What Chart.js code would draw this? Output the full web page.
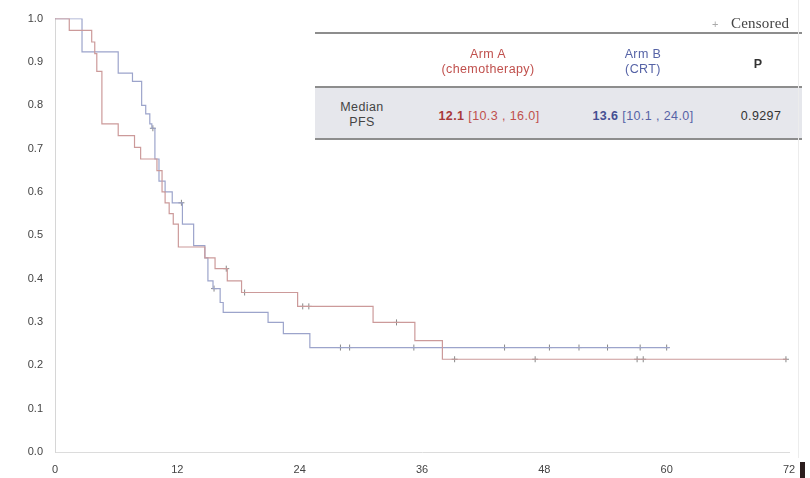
<!DOCTYPE html>
<html>
<head>
<meta charset="utf-8">
<script src="https://cdn.jsdelivr.net/npm/chart.js@4.4.1/dist/chart.umd.min.js"></script>
<style>
  body { margin: 0; background: #fff; }
  #wrap { position: relative; width: 810px; height: 478px; overflow: hidden; }
  #chart { position: absolute; left: 0; top: 0; }
  .t { position: absolute; font-family: "Liberation Sans", Arial, sans-serif; font-size: 12.5px; line-height: 15px; letter-spacing: 0.4px; text-align: center; white-space: nowrap; }
  .rule { position: absolute; left: 315px; width: 487px; height: 2px; background: #8d8d8d; }
  .red { color: #c0504d; }
  .blue { color: #5663a6; }
</style>
</head>
<body>
<div id="wrap">
  <canvas id="chart" width="810" height="478"></canvas>

  <div class="t" style="left:712px;top:17px;color:#aaa;font-size:11px;">+</div>
  <div class="t" style="left:731px;top:16px;font-family:'Liberation Serif','DejaVu Serif',serif;font-size:15px;letter-spacing:0.2px;color:#444;">Censored</div>

  <div class="rule" style="top:32px;"></div>
  <div style="position:absolute;left:315px;top:87px;width:487px;height:52px;background:#e6e7ec;"></div>
  <div class="rule" style="top:86px;"></div>
  <div class="rule" style="top:138px;"></div>

  <div class="t red" style="left:408px;width:160px;top:47px;">Arm A</div>
  <div class="t red" style="left:408px;width:160px;top:62px;">(chemotherapy)</div>
  <div class="t blue" style="left:563px;width:160px;top:47px;">Arm B</div>
  <div class="t blue" style="left:563px;width:160px;top:62px;">(CRT)</div>
  <div class="t" style="left:728px;width:60px;top:57px;font-weight:bold;color:#333;">P</div>

  <div class="t" style="left:322px;width:80px;top:100px;color:#444;">Median</div>
  <div class="t" style="left:322px;width:80px;top:115px;color:#444;">PFS</div>
  <div class="t red" style="left:409px;width:160px;top:109px;"><b style="color:#a83a3a;">12.1</b> [10.3 , 16.0]</div>
  <div class="t blue" style="left:563px;width:160px;top:109px;"><b style="color:#454f92;">13.6</b> [10.1 , 24.0]</div>
  <div class="t" style="left:731px;width:60px;top:109px;color:#333;">0.9297</div>

  <div style="position:absolute;left:798px;top:0;width:1px;height:458px;background:#ececec;"></div>
  <div style="position:absolute;left:800px;top:462px;width:5px;height:16px;background:#2b1d1d;"></div>
</div>

<script>
// Kaplan-Meier PFS, months vs probability
const armATimes = [0, 1.4, 3.6, 3.9, 4.1, 4.6, 6.2, 7.8, 8.4, 10.0, 10.5, 10.8, 11.2, 11.6, 12.1, 14.7, 15.7, 16.9, 18.3, 23.8, 31.2, 35.3, 38.0, 71.8];
const armASurv = [1.0, 0.973, 0.946, 0.919, 0.878, 0.757, 0.730, 0.703, 0.676, 0.649, 0.600, 0.575, 0.550, 0.526, 0.473, 0.448, 0.423, 0.395, 0.368, 0.336, 0.299, 0.257, 0.214, 0.214];
const armACensored = [16.8, 18.6, 24.3, 24.9, 33.5, 39.2, 47.1, 57.1, 57.7, 71.7];

const armBTimes = [0, 2.65, 6.2, 7.6, 8.5, 8.9, 9.3, 9.5, 9.8, 10.2, 10.8, 11.5, 12.5, 13.6, 14.7, 15.0, 15.5, 16.2, 16.5, 20.9, 22.4, 25.0, 60.3];
const armBSurv = [1.0, 0.923, 0.874, 0.855, 0.800, 0.780, 0.757, 0.747, 0.676, 0.625, 0.600, 0.575, 0.526, 0.476, 0.448, 0.395, 0.377, 0.345, 0.322, 0.299, 0.273, 0.241, 0.241];
const armBCensored = [9.6, 12.4, 15.6, 28.0, 28.9, 35.2, 44.1, 48.5, 51.4, 54.2, 57.4, 60.0];

const xTicks = [0, 12, 24, 36, 48, 60, 72];
const yTicks = [0, 0.1, 0.2, 0.3, 0.4, 0.5, 0.6, 0.7, 0.8, 0.9, 1.0];

function toPoints(times, surv) {
  return times.map((t, i) => ({ x: t, y: surv[i] }));
}

// value of the step curve at time t
function survAt(times, surv, t) {
  let v = surv[0];
  for (let i = 0; i < times.length; i++) {
    if (times[i] <= t) v = surv[i];
  }
  return v;
}

function censorPoints(list, times, surv) {
  return list.map(t => ({ x: t, y: survAt(times, surv, t) }));
}

const redLine = "#cc9a9a";
const blueLine = "#9ca4cb";

const config = {
  type: "scatter",
  data: {
    datasets: [
      {
        label: "Arm A",
        data: toPoints(armATimes, armASurv),
        showLine: true,
        stepped: "before",
        borderColor: redLine,
        borderWidth: 1.2,
        pointRadius: 0,
        fill: false
      },
      {
        label: "Arm B",
        data: toPoints(armBTimes, armBSurv),
        showLine: true,
        stepped: "before",
        borderColor: blueLine,
        borderWidth: 1.2,
        pointRadius: 0,
        fill: false
      },
      {
        label: "Censored A",
        data: censorPoints(armACensored, armATimes, armASurv),
        pointStyle: "cross",
        pointRadius: 3,
        borderColor: "#888",
        borderWidth: 1
      },
      {
        label: "Censored B",
        data: censorPoints(armBCensored, armBTimes, armBSurv),
        pointStyle: "cross",
        pointRadius: 3,
        borderColor: "#888",
        borderWidth: 1
      }
    ]
  },
  options: {
    responsive: false,
    animation: false,
    layout: { padding: { top: 17, right: 21, left: 0, bottom: 0 } },
    plugins: { legend: { display: false }, tooltip: { enabled: false } },
    scales: {
      x: {
        type: "linear",
        min: 0,
        max: 72,
        afterBuildTicks: (scale) => { scale.ticks = xTicks.map(v => ({ value: v })); },
        afterFit: (scale) => { scale.height = 26; },
        grid: { display: false, drawTicks: false },
        border: { display: true, color: "#dcdcdc", width: 1 },
        ticks: {
          padding: 11,
          color: "#444",
          font: { family: "Liberation Sans", size: 11 },
          maxRotation: 0
        }
      },
      y: {
        min: 0,
        max: 1,
        afterBuildTicks: (scale) => { scale.ticks = yTicks.map(v => ({ value: v })); },
        afterFit: (scale) => { scale.width = 55; },
        grid: { display: false, drawTicks: false },
        border: { display: true, color: "#d6d6d6", width: 1 },
        ticks: {
          padding: 12,
          color: "#444",
          font: { family: "Liberation Sans", size: 11 },
          callback: (v) => Number(v).toFixed(1)
        }
      }
    }
  }
};

new Chart(document.getElementById("chart"), config);
</script>
</body>
</html>
